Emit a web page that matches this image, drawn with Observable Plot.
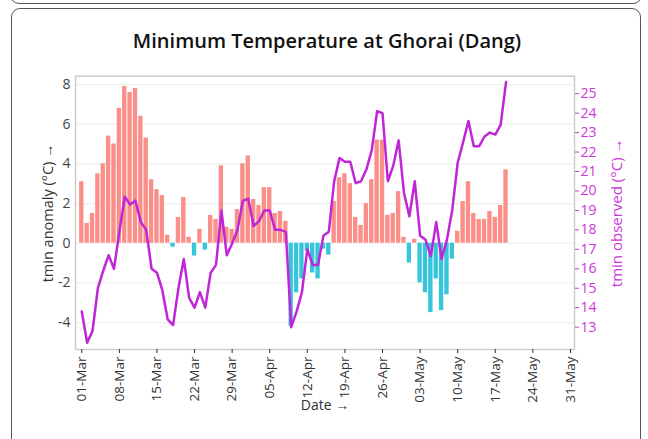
<!DOCTYPE html>
<html><head><meta charset="utf-8">
<script src="https://cdn.jsdelivr.net/npm/d3@7"></script>
<script src="https://cdn.jsdelivr.net/npm/@observablehq/plot@0.6"></script>
<style>
html,body{margin:0;padding:0;background:#fff;font-family:"Open Sans",sans-serif;overflow:hidden;}
#prev{position:absolute;left:10px;top:-20px;width:632px;height:24px;border:1px solid #555;border-radius:9px;box-sizing:border-box}
#card{position:absolute;left:11px;top:8px;width:630px;height:470px;border:1px solid #555;border-radius:9px;box-sizing:border-box}
#title{position:absolute;left:0;top:27px;width:654px;text-align:center;font-size:20px;font-weight:550;color:#111;line-height:27px}
#chart{position:absolute;left:0;top:60px}
</style></head><body>
<div id="prev"></div><div id="card"></div>
<div id="title">Minimum Temperature at Ghorai (Dang)</div>
<div id="chart"></div>
<script>
const startDate = "2023-03-01";
const endDate = "2023-05-19";
const anomaly = [
  3.1, 1.0, 1.5, 3.5, 4.0, 5.4, 5.0, 6.8, 7.9, 7.6,
  7.8, 6.4, 5.3, 3.2, 2.7, 2.4, 0.4, -0.2, 1.3, 2.3,
  0.3, -0.65, 0.7, -0.35, 1.4, 1.2, 3.9, 0.8, 0.7, 1.7,
  4.0, 4.4, 2.2, 1.9, 2.8, 2.8, 1.5, 1.6, 1.1, -4.2,
  -2.5, -1.8, -0.4, -1.5, -1.8, -0.3, -0.6, 2.1, 3.3, 3.5,
  3.0, 1.3, 0.9, 2.0, 3.2, 5.2, 5.2, 1.4, 1.5, 2.6,
  0.3, -1.0, 0.2, -2.0, -2.5, -3.5, -1.8, -3.4, -2.6, -0.8,
  0.6, 2.1, 3.1, 1.5, 1.2, 1.2, 1.6, 1.3, 1.9, 3.7
];
const observed = [
  13.8, 12.2, 12.8, 15.0, 15.9, 16.7, 16.0, 17.9, 19.7, 19.3,
  19.5, 18.4, 18.0, 16.0, 15.8, 14.9, 13.4, 13.1, 15.0, 16.5,
  14.5, 14.0, 14.8, 14.0, 15.8, 16.2, 19.0, 16.7, 17.3, 18.0,
  19.5, 19.6, 18.2, 18.45, 19.0, 19.0, 18.0, 18.0, 17.9, 13.0,
  13.8, 14.8, 17.0, 16.2, 16.2, 17.7, 17.9, 20.5, 21.7, 21.5,
  21.5, 20.4, 20.5, 21.1, 22.1, 24.1, 24.0, 20.5, 21.3, 22.6,
  19.9, 18.7, 20.5, 17.7, 17.5, 16.65, 18.4, 16.5, 17.5, 19.05,
  21.45, 22.5, 23.6, 22.3, 22.3, 22.8, 23.0, 22.9, 23.4, 25.6
];
const leftTicks = [-4, -2, 0, 2, 4, 6, 8];
const rightTicks = [13, 14, 15, 16, 17, 18, 19, 20, 21, 22, 23, 24, 25];
const xTicks = ["2023-03-01","2023-03-08","2023-03-15","2023-03-22","2023-03-29","2023-04-05",
  "2023-04-12","2023-04-19","2023-04-26","2023-05-03","2023-05-10","2023-05-17","2023-05-24","2023-05-31"];
const leftLabel = "tmin anomaly (°C) →";
const rightLabel = "tmin observed (°C) →";
const xLabel = "Date →";

const posColor = "#f98f88", negColor = "#38c5dc", lineColor = "#c026d8", rightColor = "#cc36da";
const leftDomain = [-5.36, 8.42];
const rightDomain = [11.85, 25.9];
const toLeft = v => leftDomain[0] + (v - rightDomain[0]) * (leftDomain[1] - leftDomain[0]) / (rightDomain[1] - rightDomain[0]);
const fromLeft = a => rightDomain[0] + (a - leftDomain[0]) * (rightDomain[1] - rightDomain[0]) / (leftDomain[1] - leftDomain[0]);

const dates = d3.utcDay.range(new Date(startDate), d3.utcDay.offset(new Date(endDate), 1));
const rows = dates.map((date, i) => ({date, anom: anomaly[i], obs: observed[i]}));
const half = d => d3.utcHour.offset(d, -12), halfR = d => d3.utcHour.offset(d, 12);

const plot = Plot.plot({
  width: 648, height: 360,
  marginTop: 15.7, marginBottom: 71, marginLeft: 75, marginRight: 74,
  style: {fontFamily: '"Open Sans", sans-serif', fontSize: "13px", color: "#444", background: "transparent"},
  x: {type: "utc", domain: [d3.utcHour.offset(new Date(xTicks[0]), -27.6), d3.utcHour.offset(new Date(xTicks[xTicks.length-1]), 18)]},
  y: {domain: leftDomain},
  marks: [
    Plot.gridY(leftTicks, {stroke: "#efefef", strokeOpacity: 1, strokeWidth: 1.2}),
    Plot.rect(rows, {x1: d => half(d.date), x2: d => halfR(d.date), y1: 0, y2: "anom",
      fill: d => d.anom >= 0 ? posColor : negColor, insetLeft: 0.5, insetRight: 0.5}),
    Plot.line(rows, {x: "date", y: d => toLeft(d.obs), stroke: lineColor, strokeWidth: 2.5}),
    Plot.frame({stroke: "#cccccc", strokeWidth: 1.5}),
    Plot.axisY(leftTicks, {anchor: "left", tickSize: 0, tickPadding: 5, tickFormat: d => String(d),
      label: null, fontSize: 14, color: "#444"}),
    Plot.axisY(rightTicks.map(toLeft), {anchor: "right", tickSize: 4, tickPadding: 2,
      tickFormat: d => String(Math.round(fromLeft(d))), color: rightColor, label: null, fontSize: 14}),
    Plot.axisX(xTicks.map(s => new Date(s)), {anchor: "bottom", tickSize: 4, tickRotate: -90, tickPadding: 3,
      tickFormat: d3.utcFormat("%d-%b"), color: "#333", label: null, fontSize: 13.5}),
    Plot.text([leftLabel], {frameAnchor: "left", rotate: -90, dx: -27, fontSize: 14.5, fill: "#333", lineAnchor: "middle", textAnchor: "middle"}),
    Plot.text([rightLabel], {frameAnchor: "right", rotate: -90, dx: 43, fontSize: 15, fill: rightColor, lineAnchor: "middle", textAnchor: "middle"}),
    Plot.text([xLabel], {frameAnchor: "bottom", dy: 56, fontSize: 14, fill: "#333", lineAnchor: "middle"})
  ]
});
document.getElementById("chart").appendChild(plot);
</script>
</body></html>
